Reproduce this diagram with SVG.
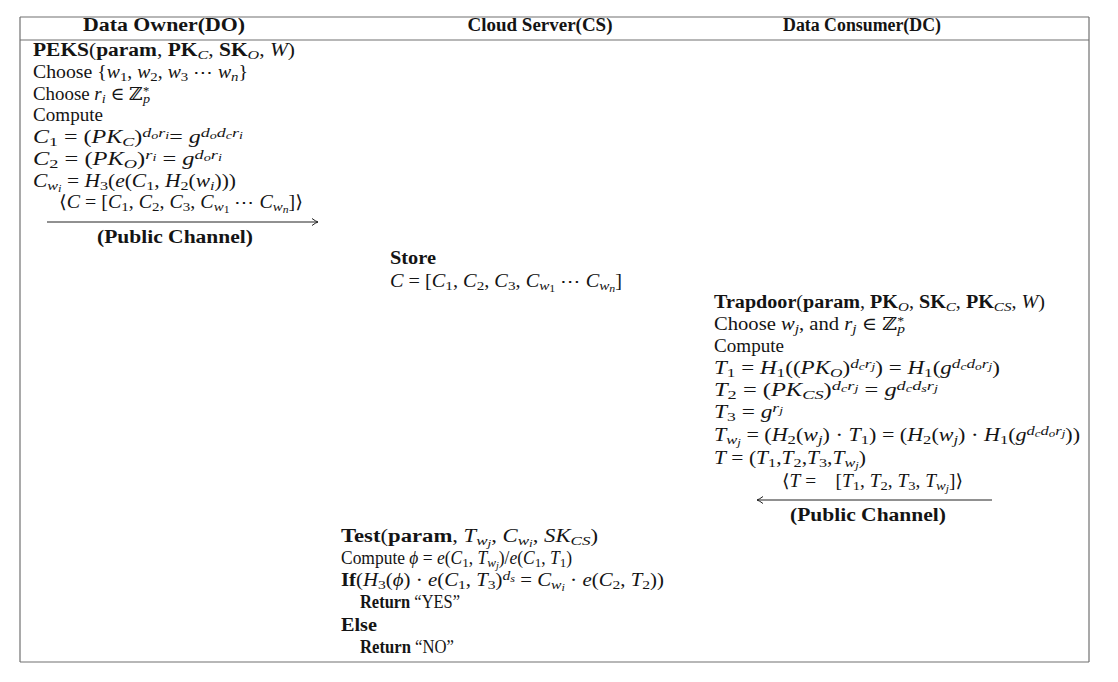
<svg xmlns="http://www.w3.org/2000/svg" width="1118" height="682" viewBox="0 0 1118 682">
<defs>
<style>
text{font-family:"Liberation Serif","DejaVu Serif",serif;font-size:18px;fill:#141414}
.b{font-weight:bold}
.i{font-style:italic}
.n{font-style:normal}
.s{font-size:13.5px;baseline-shift:-3px}
.p{font-size:13.5px;baseline-shift:6px}
.q{font-size:10.5px;baseline-shift:-2px}
.st{font-size:12px;baseline-shift:5px}
.h{font-weight:bold;text-anchor:middle}
.c{font-weight:bold;text-anchor:middle}
.rule{stroke:#707070;stroke-width:1.2;fill:none}
.arr{stroke:#222;stroke-width:1;fill:none}
</style>
<marker id="ah" markerUnits="userSpaceOnUse" markerWidth="12" markerHeight="10" refX="10" refY="5" orient="auto-start-reverse" overflow="visible">
<path d="M4,1.5 Q7.5,4.2 10,5 Q7.5,5.8 4,8.5" fill="none" stroke="#222" stroke-width="1"/>
</marker>
</defs>
<rect width="1118" height="682" fill="#fff"/>
<g id="table">
<line class="rule" x1="20" y1="17" x2="1089" y2="17"/>
<line class="rule" x1="20" y1="40" x2="1089" y2="40"/>
<line class="rule" x1="20" y1="662" x2="1089" y2="662"/>
<line class="rule" x1="20" y1="17" x2="20" y2="662"/>
<line class="rule" x1="1089" y1="17" x2="1089" y2="662"/>
</g>
<g id="headers">
<text class="h" x="164" y="31" textLength="162" lengthAdjust="spacingAndGlyphs">Data Owner(DO)</text>
<text class="h" x="540" y="31" textLength="145" lengthAdjust="spacingAndGlyphs">Cloud Server(CS)</text>
<text class="h" x="862" y="31" textLength="158" lengthAdjust="spacingAndGlyphs">Data Consumer(DC)</text>
</g>
<g id="do-peks">
<text x="33" y="56" textLength="262" lengthAdjust="spacingAndGlyphs"><tspan class="b">PEKS</tspan>(<tspan class="b">param</tspan>, <tspan class="b">PK</tspan><tspan class="s i">C</tspan>, <tspan class="b">SK</tspan><tspan class="s i">O</tspan>, <tspan class="i">W</tspan>)</text>
<text x="33" y="78" textLength="215" lengthAdjust="spacingAndGlyphs">Choose {<tspan class="i">w</tspan><tspan class="s">1</tspan>, <tspan class="i">w</tspan><tspan class="s">2</tspan>, <tspan class="i">w</tspan><tspan class="s">3</tspan> ⋯ <tspan class="i">w</tspan><tspan class="s i">n</tspan>}</text>
<text x="33" y="100" textLength="117" lengthAdjust="spacingAndGlyphs">Choose <tspan class="i">r</tspan><tspan class="s i">i</tspan> ∈ ℤ<tspan class="st">*</tspan><tspan class="s i" dx="-6">p</tspan></text>
<text x="33" y="121" textLength="70" lengthAdjust="spacingAndGlyphs">Compute</text>
<text x="33" y="143" textLength="210" lengthAdjust="spacingAndGlyphs"><tspan class="i">C</tspan><tspan class="s">1</tspan> = (<tspan class="i">PK</tspan><tspan class="s i">C</tspan>)<tspan class="p i">d<tspan class="q">o</tspan>r<tspan class="q">i</tspan></tspan>= <tspan class="i">g</tspan><tspan class="p i">d<tspan class="q">o</tspan>d<tspan class="q">c</tspan>r<tspan class="q">i</tspan></tspan></text>
<text x="33" y="165" textLength="189" lengthAdjust="spacingAndGlyphs"><tspan class="i">C</tspan><tspan class="s">2</tspan> = (<tspan class="i">PK</tspan><tspan class="s i">O</tspan>)<tspan class="p i">r<tspan class="q">i</tspan></tspan> = <tspan class="i">g</tspan><tspan class="p i">d<tspan class="q">o</tspan>r<tspan class="q">i</tspan></tspan></text>
<text x="33" y="187" textLength="203" lengthAdjust="spacingAndGlyphs"><tspan class="i">C</tspan><tspan class="s i">w<tspan class="q">i</tspan></tspan> = <tspan class="i">H</tspan><tspan class="s">3</tspan>(<tspan class="i">e</tspan>(<tspan class="i">C</tspan><tspan class="s">1</tspan>, <tspan class="i">H</tspan><tspan class="s">2</tspan>(<tspan class="i">w</tspan><tspan class="s i">i</tspan>)))</text>
<text x="59" y="208" textLength="244" lengthAdjust="spacingAndGlyphs">⟨<tspan class="i">C</tspan> = [<tspan class="i">C</tspan><tspan class="s">1</tspan>, <tspan class="i">C</tspan><tspan class="s">2</tspan>, <tspan class="i">C</tspan><tspan class="s">3</tspan>, <tspan class="i">C</tspan><tspan class="s i">w<tspan class="q n">1</tspan></tspan> ⋯ <tspan class="i">C</tspan><tspan class="s i">w<tspan class="q">n</tspan></tspan>]⟩</text>
<text class="c" x="175" y="243" textLength="156" lengthAdjust="spacingAndGlyphs">(Public Channel)</text>
</g>
<g id="cs-store">
<text class="b" x="390" y="264" textLength="46" lengthAdjust="spacingAndGlyphs">Store</text>
<text x="390" y="287" textLength="232" lengthAdjust="spacingAndGlyphs"><tspan class="i">C</tspan> = [<tspan class="i">C</tspan><tspan class="s">1</tspan>, <tspan class="i">C</tspan><tspan class="s">2</tspan>, <tspan class="i">C</tspan><tspan class="s">3</tspan>, <tspan class="i">C</tspan><tspan class="s i">w<tspan class="q n">1</tspan></tspan> ⋯ <tspan class="i">C</tspan><tspan class="s i">w<tspan class="q">n</tspan></tspan>]</text>
</g>
<g id="dc-trapdoor">
<text x="714" y="308" textLength="331" lengthAdjust="spacingAndGlyphs"><tspan class="b">Trapdoor</tspan>(<tspan class="b">param</tspan>, <tspan class="b">PK</tspan><tspan class="s i">O</tspan>, <tspan class="b">SK</tspan><tspan class="s i">C</tspan>, <tspan class="b">PK</tspan><tspan class="s i">CS</tspan>, <tspan class="i">W</tspan>)</text>
<text x="714" y="330" textLength="191" lengthAdjust="spacingAndGlyphs">Choose <tspan class="i">w</tspan><tspan class="s i">j</tspan>, and <tspan class="i">r</tspan><tspan class="s i">j</tspan> ∈ ℤ<tspan class="st">*</tspan><tspan class="s i" dx="-6">p</tspan></text>
<text x="714" y="352" textLength="70" lengthAdjust="spacingAndGlyphs">Compute</text>
<text x="714" y="374" textLength="286" lengthAdjust="spacingAndGlyphs"><tspan class="i">T</tspan><tspan class="s">1</tspan> = <tspan class="i">H</tspan><tspan class="s">1</tspan>((<tspan class="i">PK</tspan><tspan class="s i">O</tspan>)<tspan class="p i">d<tspan class="q">c</tspan>r<tspan class="q">j</tspan></tspan>) = <tspan class="i">H</tspan><tspan class="s">1</tspan>(<tspan class="i">g</tspan><tspan class="p i">d<tspan class="q">c</tspan>d<tspan class="q">o</tspan>r<tspan class="q">j</tspan></tspan>)</text>
<text x="714" y="396" textLength="224" lengthAdjust="spacingAndGlyphs"><tspan class="i">T</tspan><tspan class="s">2</tspan> = (<tspan class="i">PK</tspan><tspan class="s i">CS</tspan>)<tspan class="p i">d<tspan class="q">c</tspan>r<tspan class="q">j</tspan></tspan> = <tspan class="i">g</tspan><tspan class="p i">d<tspan class="q">c</tspan>d<tspan class="q">s</tspan>r<tspan class="q">j</tspan></tspan></text>
<text x="714" y="418" textLength="69" lengthAdjust="spacingAndGlyphs"><tspan class="i">T</tspan><tspan class="s">3</tspan> = <tspan class="i">g</tspan><tspan class="p i">r<tspan class="q">j</tspan></tspan></text>
<text x="714" y="441" textLength="366" lengthAdjust="spacingAndGlyphs"><tspan class="i">T</tspan><tspan class="s i">w<tspan class="q">j</tspan></tspan> = (<tspan class="i">H</tspan><tspan class="s">2</tspan>(<tspan class="i">w</tspan><tspan class="s i">j</tspan>) ⋅ <tspan class="i">T</tspan><tspan class="s">1</tspan>) = (<tspan class="i">H</tspan><tspan class="s">2</tspan>(<tspan class="i">w</tspan><tspan class="s i">j</tspan>) ⋅ <tspan class="i">H</tspan><tspan class="s">1</tspan>(<tspan class="i">g</tspan><tspan class="p i">d<tspan class="q">c</tspan>d<tspan class="q">o</tspan>r<tspan class="q">j</tspan></tspan>))</text>
<text x="714" y="464" textLength="152" lengthAdjust="spacingAndGlyphs"><tspan class="i">T</tspan> = (<tspan class="i">T</tspan><tspan class="s">1</tspan>,<tspan class="i">T</tspan><tspan class="s">2</tspan>,<tspan class="i">T</tspan><tspan class="s">3</tspan>,<tspan class="i">T</tspan><tspan class="s i">w<tspan class="q">j</tspan></tspan>)</text>
<text x="782" y="487" textLength="181" lengthAdjust="spacingAndGlyphs">⟨<tspan class="i">T</tspan> = &#160;&#160;&#160;[<tspan class="i">T</tspan><tspan class="s">1</tspan>, <tspan class="i">T</tspan><tspan class="s">2</tspan>, <tspan class="i">T</tspan><tspan class="s">3</tspan>, <tspan class="i">T</tspan><tspan class="s i">w<tspan class="q">j</tspan></tspan>]⟩</text>
<text class="c" x="868" y="521" textLength="156" lengthAdjust="spacingAndGlyphs">(Public Channel)</text>
</g>
<g id="cs-test">
<text x="341" y="542" textLength="257" lengthAdjust="spacingAndGlyphs"><tspan class="b">Test</tspan>(<tspan class="b">param</tspan>, <tspan class="i">T</tspan><tspan class="s i">w<tspan class="q">j</tspan></tspan>, <tspan class="i">C</tspan><tspan class="s i">w<tspan class="q">i</tspan></tspan>, <tspan class="i">SK</tspan><tspan class="s i">CS</tspan>)</text>
<text x="341" y="564" textLength="231" lengthAdjust="spacingAndGlyphs">Compute <tspan class="i">ϕ</tspan> = <tspan class="i">e</tspan>(<tspan class="i">C</tspan><tspan class="s">1</tspan>, <tspan class="i">T</tspan><tspan class="s i">w<tspan class="q">j</tspan></tspan>)/<tspan class="i">e</tspan>(<tspan class="i">C</tspan><tspan class="s">1</tspan>, <tspan class="i">T</tspan><tspan class="s">1</tspan>)</text>
<text x="341" y="586" textLength="323" lengthAdjust="spacingAndGlyphs"><tspan class="b">If</tspan>(<tspan class="i">H</tspan><tspan class="s">3</tspan>(<tspan class="i">ϕ</tspan>) ⋅ <tspan class="i">e</tspan>(<tspan class="i">C</tspan><tspan class="s">1</tspan>, <tspan class="i">T</tspan><tspan class="s">3</tspan>)<tspan class="p i">d<tspan class="q">s</tspan></tspan> = <tspan class="i">C</tspan><tspan class="s i">w<tspan class="q">i</tspan></tspan> ⋅ <tspan class="i">e</tspan>(<tspan class="i">C</tspan><tspan class="s">2</tspan>, <tspan class="i">T</tspan><tspan class="s">2</tspan>))</text>
<text x="360" y="608" textLength="100" lengthAdjust="spacingAndGlyphs"><tspan class="b">Return</tspan> “YES”</text>
<text class="b" x="341" y="631" textLength="36" lengthAdjust="spacingAndGlyphs">Else</text>
<text x="360" y="653" textLength="94" lengthAdjust="spacingAndGlyphs"><tspan class="b">Return</tspan> “NO”</text>
</g>
<g id="connectors">
<line class="arr" x1="47" y1="222" x2="318" y2="222" marker-end="url(#ah)"/>
<line class="arr" x1="757" y1="500" x2="992" y2="500" marker-start="url(#ah)"/>
</g>
</svg>
